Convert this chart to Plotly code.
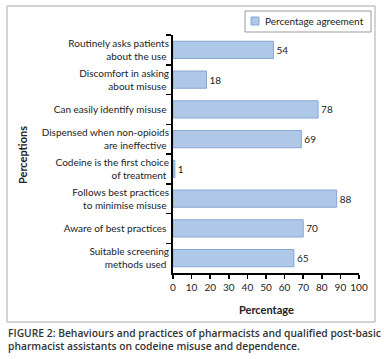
import plotly.graph_objects as go

categories = [
    "Routinely asks patients<br>about the use",
    "Discomfort in asking<br>about misuse",
    "Can easily identify misuse",
    "Dispensed when non-opioids<br>are ineffective",
    "Codeine is the first choice<br>of treatment",
    "Follows best practices<br>to minimise misuse",
    "Aware of best practices",
    "Suitable screening<br>methods used",
]
values = [54, 18, 78, 69, 1, 88, 70, 65]
series_name = "Percentage agreement"
x_ticks = list(range(0, 101, 10))

W, H = 384, 359
L, R, T, B = 173, 25, 35, 86
pw, ph = W - L - R, H - T - B

def px(x):
    return (x - L) / pw

def py(y):
    return (H - B - y) / ph

FONT = "Lato"
BAR_FILL = "#b0c8e8"
BAR_LINE = "#86a6d4"

fig = go.Figure()
fig.add_trace(go.Bar(
    y=categories, x=values, orientation="h", name=series_name,
    marker=dict(color=BAR_FILL, line=dict(color=BAR_LINE, width=1)),
    text=[str(v) for v in values], textposition="outside",
    textfont=dict(size=10, color="#222", family=FONT),
    cliponaxis=False, showlegend=False, hoverinfo="skip",
))

fig.update_layout(
    width=W, height=H,
    margin=dict(l=L, r=R, t=T, b=B, autoexpand=False),
    paper_bgcolor="white", plot_bgcolor="white",
    bargap=0.42,
    font=dict(family=FONT, size=10, color="#222"),
    showlegend=False,
    xaxis=dict(range=[0, 100], tickvals=x_ticks, ticks="outside", ticklen=4,
               tickwidth=1.5, tickcolor="black", tickangle=0, automargin=False,
               showline=True, linecolor="black", linewidth=2, showgrid=False,
               zeroline=False, tickfont=dict(size=10, color="#222")),
    yaxis=dict(categoryorder="array", categoryarray=categories,
               autorange="reversed", ticks="outside", tickson="boundaries",
               ticklen=5, tickwidth=1.5, tickcolor="black", automargin=False,
               showline=True, linecolor="black", linewidth=2, showgrid=False,
               tickfont=dict(size=10, color="#222"), ticksuffix=" "),
)

# outer chart border
fig.add_shape(type="rect", xref="paper", yref="paper",
              x0=px(7), x1=px(375), y0=py(322), y1=py(6),
              line=dict(color="#a8a8a8", width=1), fillcolor="rgba(0,0,0,0)",
              layer="below")
# legend box
fig.add_shape(type="rect", xref="paper", yref="paper",
              x0=px(245), x1=px(371), y0=py(32), y1=py(11),
              line=dict(color="#9a9a9a", width=1), fillcolor="white")
fig.add_shape(type="rect", xref="paper", yref="paper",
              x0=px(251), x1=px(259), y0=py(25), y1=py(17),
              line=dict(color=BAR_LINE, width=1), fillcolor=BAR_FILL)
fig.add_annotation(text=series_name, xref="paper", yref="paper",
                   x=px(263), y=py(21), xanchor="left", yanchor="middle",
                   showarrow=False,
                   font=dict(size=10, color="#222", family=FONT))

fig.add_annotation(text="<b>Perceptions</b>", xref="paper", yref="paper",
                   x=px(22), y=py(155), textangle=-90, showarrow=False,
                   xanchor="center", yanchor="middle",
                   font=dict(size=11, color="#222", family=FONT))
fig.add_annotation(text="<b>Percentage</b>", xref="paper", yref="paper",
                   x=px(266), y=py(309), showarrow=False,
                   xanchor="center", yanchor="middle",
                   font=dict(size=11, color="#222", family=FONT))
CAP_FONT = dict(size=10.3, color="#333", family="Open Sans", weight=600)
fig.add_annotation(text="FIGURE 2: Behaviours and practices of pharmacists and qualified post-basic",
                   xref="paper", yref="paper", x=px(6), y=py(333),
                   xanchor="left", yanchor="middle", showarrow=False,
                   font=CAP_FONT)
fig.add_annotation(text="pharmacist assistants on codeine misuse and dependence.",
                   xref="paper", yref="paper", x=px(6), y=py(346),
                   xanchor="left", yanchor="middle", showarrow=False,
                   font=CAP_FONT)

fig.write_html("out.html", config={"displayModeBar": False, "staticPlot": True},
               post_script="document.body.style.margin='0';document.body.style.overflow='hidden';")
